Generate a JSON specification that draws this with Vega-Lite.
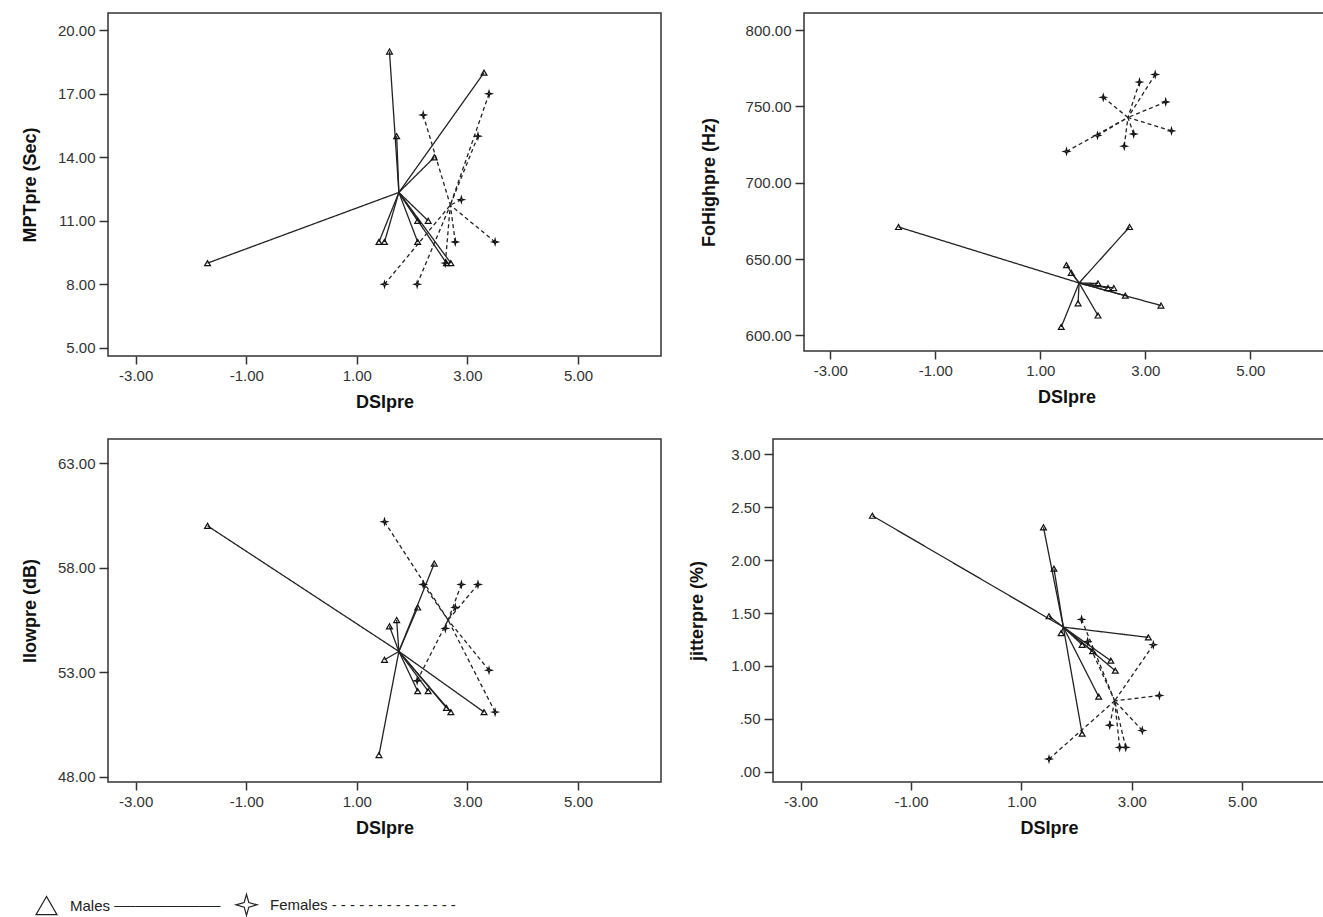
{
  "$schema": "https://vega.github.io/schema/vega-lite/v6.json",
  "background": "white",
  "padding": {"left": 20, "top": 12, "right": 0, "bottom": 0},
  "datasets": {
    "pts": [
      {"panel": "MPT", "group": "Males", "dsi": -1.7, "val": 9, "cdsi": 1.76, "cval": 12.34},
      {"panel": "MPT", "group": "Males", "dsi": 1.59, "val": 19, "cdsi": 1.76, "cval": 12.34},
      {"panel": "MPT", "group": "Males", "dsi": 1.72, "val": 15, "cdsi": 1.76, "cval": 12.34},
      {"panel": "MPT", "group": "Males", "dsi": 3.3, "val": 18, "cdsi": 1.76, "cval": 12.34},
      {"panel": "MPT", "group": "Males", "dsi": 2.4, "val": 14, "cdsi": 1.76, "cval": 12.34},
      {"panel": "MPT", "group": "Males", "dsi": 1.4, "val": 10, "cdsi": 1.76, "cval": 12.34},
      {"panel": "MPT", "group": "Males", "dsi": 1.5, "val": 10, "cdsi": 1.76, "cval": 12.34},
      {"panel": "MPT", "group": "Males", "dsi": 2.1, "val": 11, "cdsi": 1.76, "cval": 12.34},
      {"panel": "MPT", "group": "Males", "dsi": 2.29, "val": 11, "cdsi": 1.76, "cval": 12.34},
      {"panel": "MPT", "group": "Males", "dsi": 2.1, "val": 10, "cdsi": 1.76, "cval": 12.34},
      {"panel": "MPT", "group": "Males", "dsi": 2.62, "val": 9, "cdsi": 1.76, "cval": 12.34},
      {"panel": "MPT", "group": "Males", "dsi": 2.7, "val": 9, "cdsi": 1.76, "cval": 12.34},
      {"panel": "MPT", "group": "Females", "dsi": 2.2, "val": 16, "cdsi": 2.69, "cval": 11.74},
      {"panel": "MPT", "group": "Females", "dsi": 3.39, "val": 17, "cdsi": 2.69, "cval": 11.74},
      {"panel": "MPT", "group": "Females", "dsi": 3.19, "val": 15, "cdsi": 2.69, "cval": 11.74},
      {"panel": "MPT", "group": "Females", "dsi": 2.89, "val": 12, "cdsi": 2.69, "cval": 11.74},
      {"panel": "MPT", "group": "Females", "dsi": 2.78, "val": 10, "cdsi": 2.69, "cval": 11.74},
      {"panel": "MPT", "group": "Females", "dsi": 3.5, "val": 10, "cdsi": 2.69, "cval": 11.74},
      {"panel": "MPT", "group": "Females", "dsi": 1.5, "val": 8, "cdsi": 2.69, "cval": 11.74},
      {"panel": "MPT", "group": "Females", "dsi": 2.09, "val": 8, "cdsi": 2.69, "cval": 11.74},
      {"panel": "MPT", "group": "Females", "dsi": 2.6, "val": 9, "cdsi": 2.69, "cval": 11.74},

      {"panel": "FoHigh", "group": "Males", "dsi": -1.7, "val": 671, "cdsi": 1.74, "cval": 634.3},
      {"panel": "FoHigh", "group": "Males", "dsi": 2.7, "val": 671, "cdsi": 1.74, "cval": 634.3},
      {"panel": "FoHigh", "group": "Males", "dsi": 1.5, "val": 646, "cdsi": 1.74, "cval": 634.3},
      {"panel": "FoHigh", "group": "Males", "dsi": 1.59, "val": 641, "cdsi": 1.74, "cval": 634.3},
      {"panel": "FoHigh", "group": "Males", "dsi": 2.1, "val": 634, "cdsi": 1.74, "cval": 634.3},
      {"panel": "FoHigh", "group": "Males", "dsi": 2.29, "val": 631, "cdsi": 1.74, "cval": 634.3},
      {"panel": "FoHigh", "group": "Males", "dsi": 2.4, "val": 631, "cdsi": 1.74, "cval": 634.3},
      {"panel": "FoHigh", "group": "Males", "dsi": 3.3, "val": 619.5, "cdsi": 1.74, "cval": 634.3},
      {"panel": "FoHigh", "group": "Males", "dsi": 1.72, "val": 621, "cdsi": 1.74, "cval": 634.3},
      {"panel": "FoHigh", "group": "Males", "dsi": 2.1, "val": 613, "cdsi": 1.74, "cval": 634.3},
      {"panel": "FoHigh", "group": "Males", "dsi": 1.4, "val": 605.5, "cdsi": 1.74, "cval": 634.3},
      {"panel": "FoHigh", "group": "Males", "dsi": 2.62, "val": 626, "cdsi": 1.74, "cval": 634.3},
      {"panel": "FoHigh", "group": "Females", "dsi": 2.2, "val": 756, "cdsi": 2.67, "cval": 742.8},
      {"panel": "FoHigh", "group": "Females", "dsi": 2.89, "val": 766, "cdsi": 2.67, "cval": 742.8},
      {"panel": "FoHigh", "group": "Females", "dsi": 3.19, "val": 771, "cdsi": 2.67, "cval": 742.8},
      {"panel": "FoHigh", "group": "Females", "dsi": 3.39, "val": 753, "cdsi": 2.67, "cval": 742.8},
      {"panel": "FoHigh", "group": "Females", "dsi": 3.5, "val": 734, "cdsi": 2.67, "cval": 742.8},
      {"panel": "FoHigh", "group": "Females", "dsi": 2.78, "val": 732, "cdsi": 2.67, "cval": 742.8},
      {"panel": "FoHigh", "group": "Females", "dsi": 2.6, "val": 724, "cdsi": 2.67, "cval": 742.8},
      {"panel": "FoHigh", "group": "Females", "dsi": 2.09, "val": 731, "cdsi": 2.67, "cval": 742.8},
      {"panel": "FoHigh", "group": "Females", "dsi": 1.5, "val": 720.5, "cdsi": 2.67, "cval": 742.8},

      {"panel": "Ilow", "group": "Males", "dsi": -1.7, "val": 60, "cdsi": 1.76, "cval": 54.0},
      {"panel": "Ilow", "group": "Males", "dsi": 2.4, "val": 58.2, "cdsi": 1.76, "cval": 54.0},
      {"panel": "Ilow", "group": "Males", "dsi": 2.1, "val": 56.1, "cdsi": 1.76, "cval": 54.0},
      {"panel": "Ilow", "group": "Males", "dsi": 1.72, "val": 55.5, "cdsi": 1.76, "cval": 54.0},
      {"panel": "Ilow", "group": "Males", "dsi": 1.59, "val": 55.2, "cdsi": 1.76, "cval": 54.0},
      {"panel": "Ilow", "group": "Males", "dsi": 1.5, "val": 53.6, "cdsi": 1.76, "cval": 54.0},
      {"panel": "Ilow", "group": "Males", "dsi": 2.1, "val": 52.1, "cdsi": 1.76, "cval": 54.0},
      {"panel": "Ilow", "group": "Males", "dsi": 2.29, "val": 52.1, "cdsi": 1.76, "cval": 54.0},
      {"panel": "Ilow", "group": "Males", "dsi": 2.7, "val": 51.1, "cdsi": 1.76, "cval": 54.0},
      {"panel": "Ilow", "group": "Males", "dsi": 3.3, "val": 51.1, "cdsi": 1.76, "cval": 54.0},
      {"panel": "Ilow", "group": "Males", "dsi": 1.4, "val": 49.05, "cdsi": 1.76, "cval": 54.0},
      {"panel": "Ilow", "group": "Males", "dsi": 2.62, "val": 51.3, "cdsi": 1.76, "cval": 54.0},
      {"panel": "Ilow", "group": "Females", "dsi": 1.5, "val": 60.2, "cdsi": 2.65, "cval": 55.5},
      {"panel": "Ilow", "group": "Females", "dsi": 2.2, "val": 57.2, "cdsi": 2.65, "cval": 55.5},
      {"panel": "Ilow", "group": "Females", "dsi": 2.89, "val": 57.2, "cdsi": 2.65, "cval": 55.5},
      {"panel": "Ilow", "group": "Females", "dsi": 3.19, "val": 57.2, "cdsi": 2.65, "cval": 55.5},
      {"panel": "Ilow", "group": "Females", "dsi": 2.78, "val": 56.1, "cdsi": 2.65, "cval": 55.5},
      {"panel": "Ilow", "group": "Females", "dsi": 2.6, "val": 55.1, "cdsi": 2.65, "cval": 55.5},
      {"panel": "Ilow", "group": "Females", "dsi": 3.39, "val": 53.1, "cdsi": 2.65, "cval": 55.5},
      {"panel": "Ilow", "group": "Females", "dsi": 3.5, "val": 51.1, "cdsi": 2.65, "cval": 55.5},
      {"panel": "Ilow", "group": "Females", "dsi": 2.09, "val": 52.6, "cdsi": 2.65, "cval": 55.5},

      {"panel": "Jitter", "group": "Males", "dsi": -1.7, "val": 2.42, "cdsi": 1.76, "cval": 1.367},
      {"panel": "Jitter", "group": "Males", "dsi": 1.4, "val": 2.31, "cdsi": 1.76, "cval": 1.367},
      {"panel": "Jitter", "group": "Males", "dsi": 1.59, "val": 1.92, "cdsi": 1.76, "cval": 1.367},
      {"panel": "Jitter", "group": "Males", "dsi": 1.5, "val": 1.47, "cdsi": 1.76, "cval": 1.367},
      {"panel": "Jitter", "group": "Males", "dsi": 3.3, "val": 1.27, "cdsi": 1.76, "cval": 1.367},
      {"panel": "Jitter", "group": "Males", "dsi": 1.72, "val": 1.31, "cdsi": 1.76, "cval": 1.367},
      {"panel": "Jitter", "group": "Males", "dsi": 2.1, "val": 1.2, "cdsi": 1.76, "cval": 1.367},
      {"panel": "Jitter", "group": "Males", "dsi": 2.29, "val": 1.14, "cdsi": 1.76, "cval": 1.367},
      {"panel": "Jitter", "group": "Males", "dsi": 2.7, "val": 0.955, "cdsi": 1.76, "cval": 1.367},
      {"panel": "Jitter", "group": "Males", "dsi": 2.4, "val": 0.71, "cdsi": 1.76, "cval": 1.367},
      {"panel": "Jitter", "group": "Males", "dsi": 2.1, "val": 0.36, "cdsi": 1.76, "cval": 1.367},
      {"panel": "Jitter", "group": "Males", "dsi": 2.62, "val": 1.05, "cdsi": 1.76, "cval": 1.367},
      {"panel": "Jitter", "group": "Females", "dsi": 2.09, "val": 1.44, "cdsi": 2.69, "cval": 0.67},
      {"panel": "Jitter", "group": "Females", "dsi": 3.39, "val": 1.2, "cdsi": 2.69, "cval": 0.67},
      {"panel": "Jitter", "group": "Females", "dsi": 3.5, "val": 0.72, "cdsi": 2.69, "cval": 0.67},
      {"panel": "Jitter", "group": "Females", "dsi": 3.19, "val": 0.39, "cdsi": 2.69, "cval": 0.67},
      {"panel": "Jitter", "group": "Females", "dsi": 2.6, "val": 0.44, "cdsi": 2.69, "cval": 0.67},
      {"panel": "Jitter", "group": "Females", "dsi": 2.78, "val": 0.23, "cdsi": 2.69, "cval": 0.67},
      {"panel": "Jitter", "group": "Females", "dsi": 2.89, "val": 0.23, "cdsi": 2.69, "cval": 0.67},
      {"panel": "Jitter", "group": "Females", "dsi": 1.5, "val": 0.12, "cdsi": 2.69, "cval": 0.67},
      {"panel": "Jitter", "group": "Females", "dsi": 2.2, "val": 1.23, "cdsi": 2.69, "cval": 0.67}
    ]
  },
  "data": {"name": "pts"},
  "config": {
    "view": {"stroke": "#333", "strokeWidth": 1.5},
    "axis": {
      "grid": false,
      "domain": false,
      "tickColor": "#333",
      "tickWidth": 1.5,
      "tickSize": 9,
      "labelPadding": 4,
      "labelFont": "Liberation Sans",
      "labelFontSize": 15,
      "labelColor": "#333",
      "titleFont": "Liberation Sans",
      "titleFontSize": 18,
      "titleFontWeight": "bold",
      "titleColor": "#111"
    },
    "axisX": {"titlePadding": 10, "labelPadding": 4, "tickSize": 8}
  },
  "spacing": 26,
  "vconcat": [
    {
      "spacing": 37,
      "hconcat": [
        {
          "width": 553, "height": 343,
          "transform": [{"filter": "datum.panel == 'MPT'"}],
          "layer": [
            {
              "mark": {"type": "rule", "color": "#222", "strokeWidth": 1.3},
              "encoding": {
                "x": {"field": "dsi", "type": "quantitative", "scale": {"domain": [-3.5, 6.5], "nice": false, "zero": false},
                      "axis": {"title": "DSIpre", "values": [-3, -1, 1, 3, 5], "labelExpr": "(datum.value < 0 ? '-' : '') + format(abs(datum.value), '.2f')"}},
                "y": {"field": "val", "type": "quantitative", "scale": {"domain": [4.61, 20.82], "nice": false, "zero": false},
                      "axis": {"title": "MPTpre (Sec)", "values": [5, 8, 11, 14, 17, 20], "format": ".2f", "minExtent": 60, "maxExtent": 60, "titlePadding": 9}},
                "x2": {"field": "cdsi"},
                "y2": {"field": "cval"},
                "strokeDash": {"condition": {"test": "datum.group == 'Females'", "value": [4, 3]}, "value": [1, 0]}
              }
            },
            {
              "mark": {"type": "point", "filled": false, "stroke": "#111", "strokeWidth": 1.2, "size": 34, "opacity": 1},
              "encoding": {
                "x": {"field": "dsi", "type": "quantitative"},
                "y": {"field": "val", "type": "quantitative"},
                "shape": {"field": "group", "type": "nominal",
                          "scale": {"domain": ["Males", "Females"], "range": ["triangle-up", "M0,-1L0.22,-0.22L1,0L0.22,0.22L0,1L-0.22,0.22L-1,0L-0.22,-0.22Z"]},
                          "legend": {
                            "orient": "none",
                            "legendX": -73,
                            "legendY": 880,
                            "direction": "horizontal",
                            "title": null,
                            "symbolSize": 440,
                            "symbolStrokeWidth": 1.2,
                            "symbolStrokeColor": "#222",
                            "symbolFillColor": "white",
                            "labelFont": "Liberation Sans",
                            "labelFontSize": 15,
                            "labelColor": "#222",
                            "labelOffset": 12,
                            "columnPadding": 8,
                            "labelLimit": 400,
                            "labelExpr": "datum.label == 'Males' ? 'Males  \u2500\u2500\u2500\u2500\u2500\u2500\u2500\u2500\u2500\u2500' : 'Females  - - - - - - - - - - - - - -'"
                          }}
              }
            }
          ]
        },
        {
          "width": 525, "height": 338,
          "transform": [{"filter": "datum.panel == 'FoHigh'"}],
          "layer": [
            {
              "mark": {"type": "rule", "color": "#222", "strokeWidth": 1.3},
              "encoding": {
                "x": {"field": "dsi", "type": "quantitative", "scale": {"domain": [-3.5, 6.5], "nice": false, "zero": false},
                      "axis": {"title": "DSIpre", "values": [-3, -1, 1, 3, 5], "labelExpr": "(datum.value < 0 ? '-' : '') + format(abs(datum.value), '.2f')"}},
                "y": {"field": "val", "type": "quantitative", "scale": {"domain": [589.7, 811.3], "nice": false, "zero": false},
                      "axis": {"title": "FoHighpre (Hz)", "values": [600, 650, 700, 750, 800], "format": ".2f", "minExtent": 76, "maxExtent": 76, "titlePadding": 10}},
                "x2": {"field": "cdsi"},
                "y2": {"field": "cval"},
                "strokeDash": {"condition": {"test": "datum.group == 'Females'", "value": [4, 3]}, "value": [1, 0]}
              }
            },
            {
              "mark": {"type": "point", "filled": false, "stroke": "#111", "strokeWidth": 1.2, "size": 34, "opacity": 1},
              "encoding": {
                "x": {"field": "dsi", "type": "quantitative"},
                "y": {"field": "val", "type": "quantitative"},
                "shape": {"field": "group", "type": "nominal"}
              }
            }
          ]
        }
      ]
    },
    {
      "spacing": 25,
      "hconcat": [
        {
          "width": 553, "height": 343,
          "transform": [{"filter": "datum.panel == 'Ilow'"}],
          "layer": [
            {
              "mark": {"type": "rule", "color": "#222", "strokeWidth": 1.3},
              "encoding": {
                "x": {"field": "dsi", "type": "quantitative", "scale": {"domain": [-3.5, 6.5], "nice": false, "zero": false},
                      "axis": {"title": "DSIpre", "values": [-3, -1, 1, 3, 5], "labelExpr": "(datum.value < 0 ? '-' : '') + format(abs(datum.value), '.2f')"}},
                "y": {"field": "val", "type": "quantitative", "scale": {"domain": [47.76, 64.15], "nice": false, "zero": false},
                      "axis": {"title": "Ilowpre (dB)", "values": [48, 53, 58, 63], "format": ".2f", "minExtent": 60, "maxExtent": 60, "titlePadding": 9}},
                "x2": {"field": "cdsi"},
                "y2": {"field": "cval"},
                "strokeDash": {"condition": {"test": "datum.group == 'Females'", "value": [4, 3]}, "value": [1, 0]}
              }
            },
            {
              "mark": {"type": "point", "filled": false, "stroke": "#111", "strokeWidth": 1.2, "size": 34, "opacity": 1},
              "encoding": {
                "x": {"field": "dsi", "type": "quantitative"},
                "y": {"field": "val", "type": "quantitative"},
                "shape": {"field": "group", "type": "nominal"}
              }
            }
          ]
        },
        {
          "width": 552, "height": 343,
          "transform": [{"filter": "datum.panel == 'Jitter'"}],
          "layer": [
            {
              "mark": {"type": "rule", "color": "#222", "strokeWidth": 1.3},
              "encoding": {
                "x": {"field": "dsi", "type": "quantitative", "scale": {"domain": [-3.5, 6.5], "nice": false, "zero": false},
                      "axis": {"title": "DSIpre", "values": [-3, -1, 1, 3, 5], "labelExpr": "(datum.value < 0 ? '-' : '') + format(abs(datum.value), '.2f')"}},
                "y": {"field": "val", "type": "quantitative", "scale": {"domain": [-0.097, 3.145], "nice": false, "zero": false},
                      "axis": {"title": "jitterpre (%)", "values": [0, 0.5, 1, 1.5, 2, 2.5, 3], "labelExpr": "datum.value < 1 ? '.' + substring(format(datum.value, '.2f'), 2) : format(datum.value, '.2f')", "minExtent": 58, "maxExtent": 58, "titlePadding": 9}},
                "x2": {"field": "cdsi"},
                "y2": {"field": "cval"},
                "strokeDash": {"condition": {"test": "datum.group == 'Females'", "value": [4, 3]}, "value": [1, 0]}
              }
            },
            {
              "mark": {"type": "point", "filled": false, "stroke": "#111", "strokeWidth": 1.2, "size": 34, "opacity": 1},
              "encoding": {
                "x": {"field": "dsi", "type": "quantitative"},
                "y": {"field": "val", "type": "quantitative"},
                "shape": {"field": "group", "type": "nominal"}
              }
            }
          ]
        }
      ]
    }
  ]
}
